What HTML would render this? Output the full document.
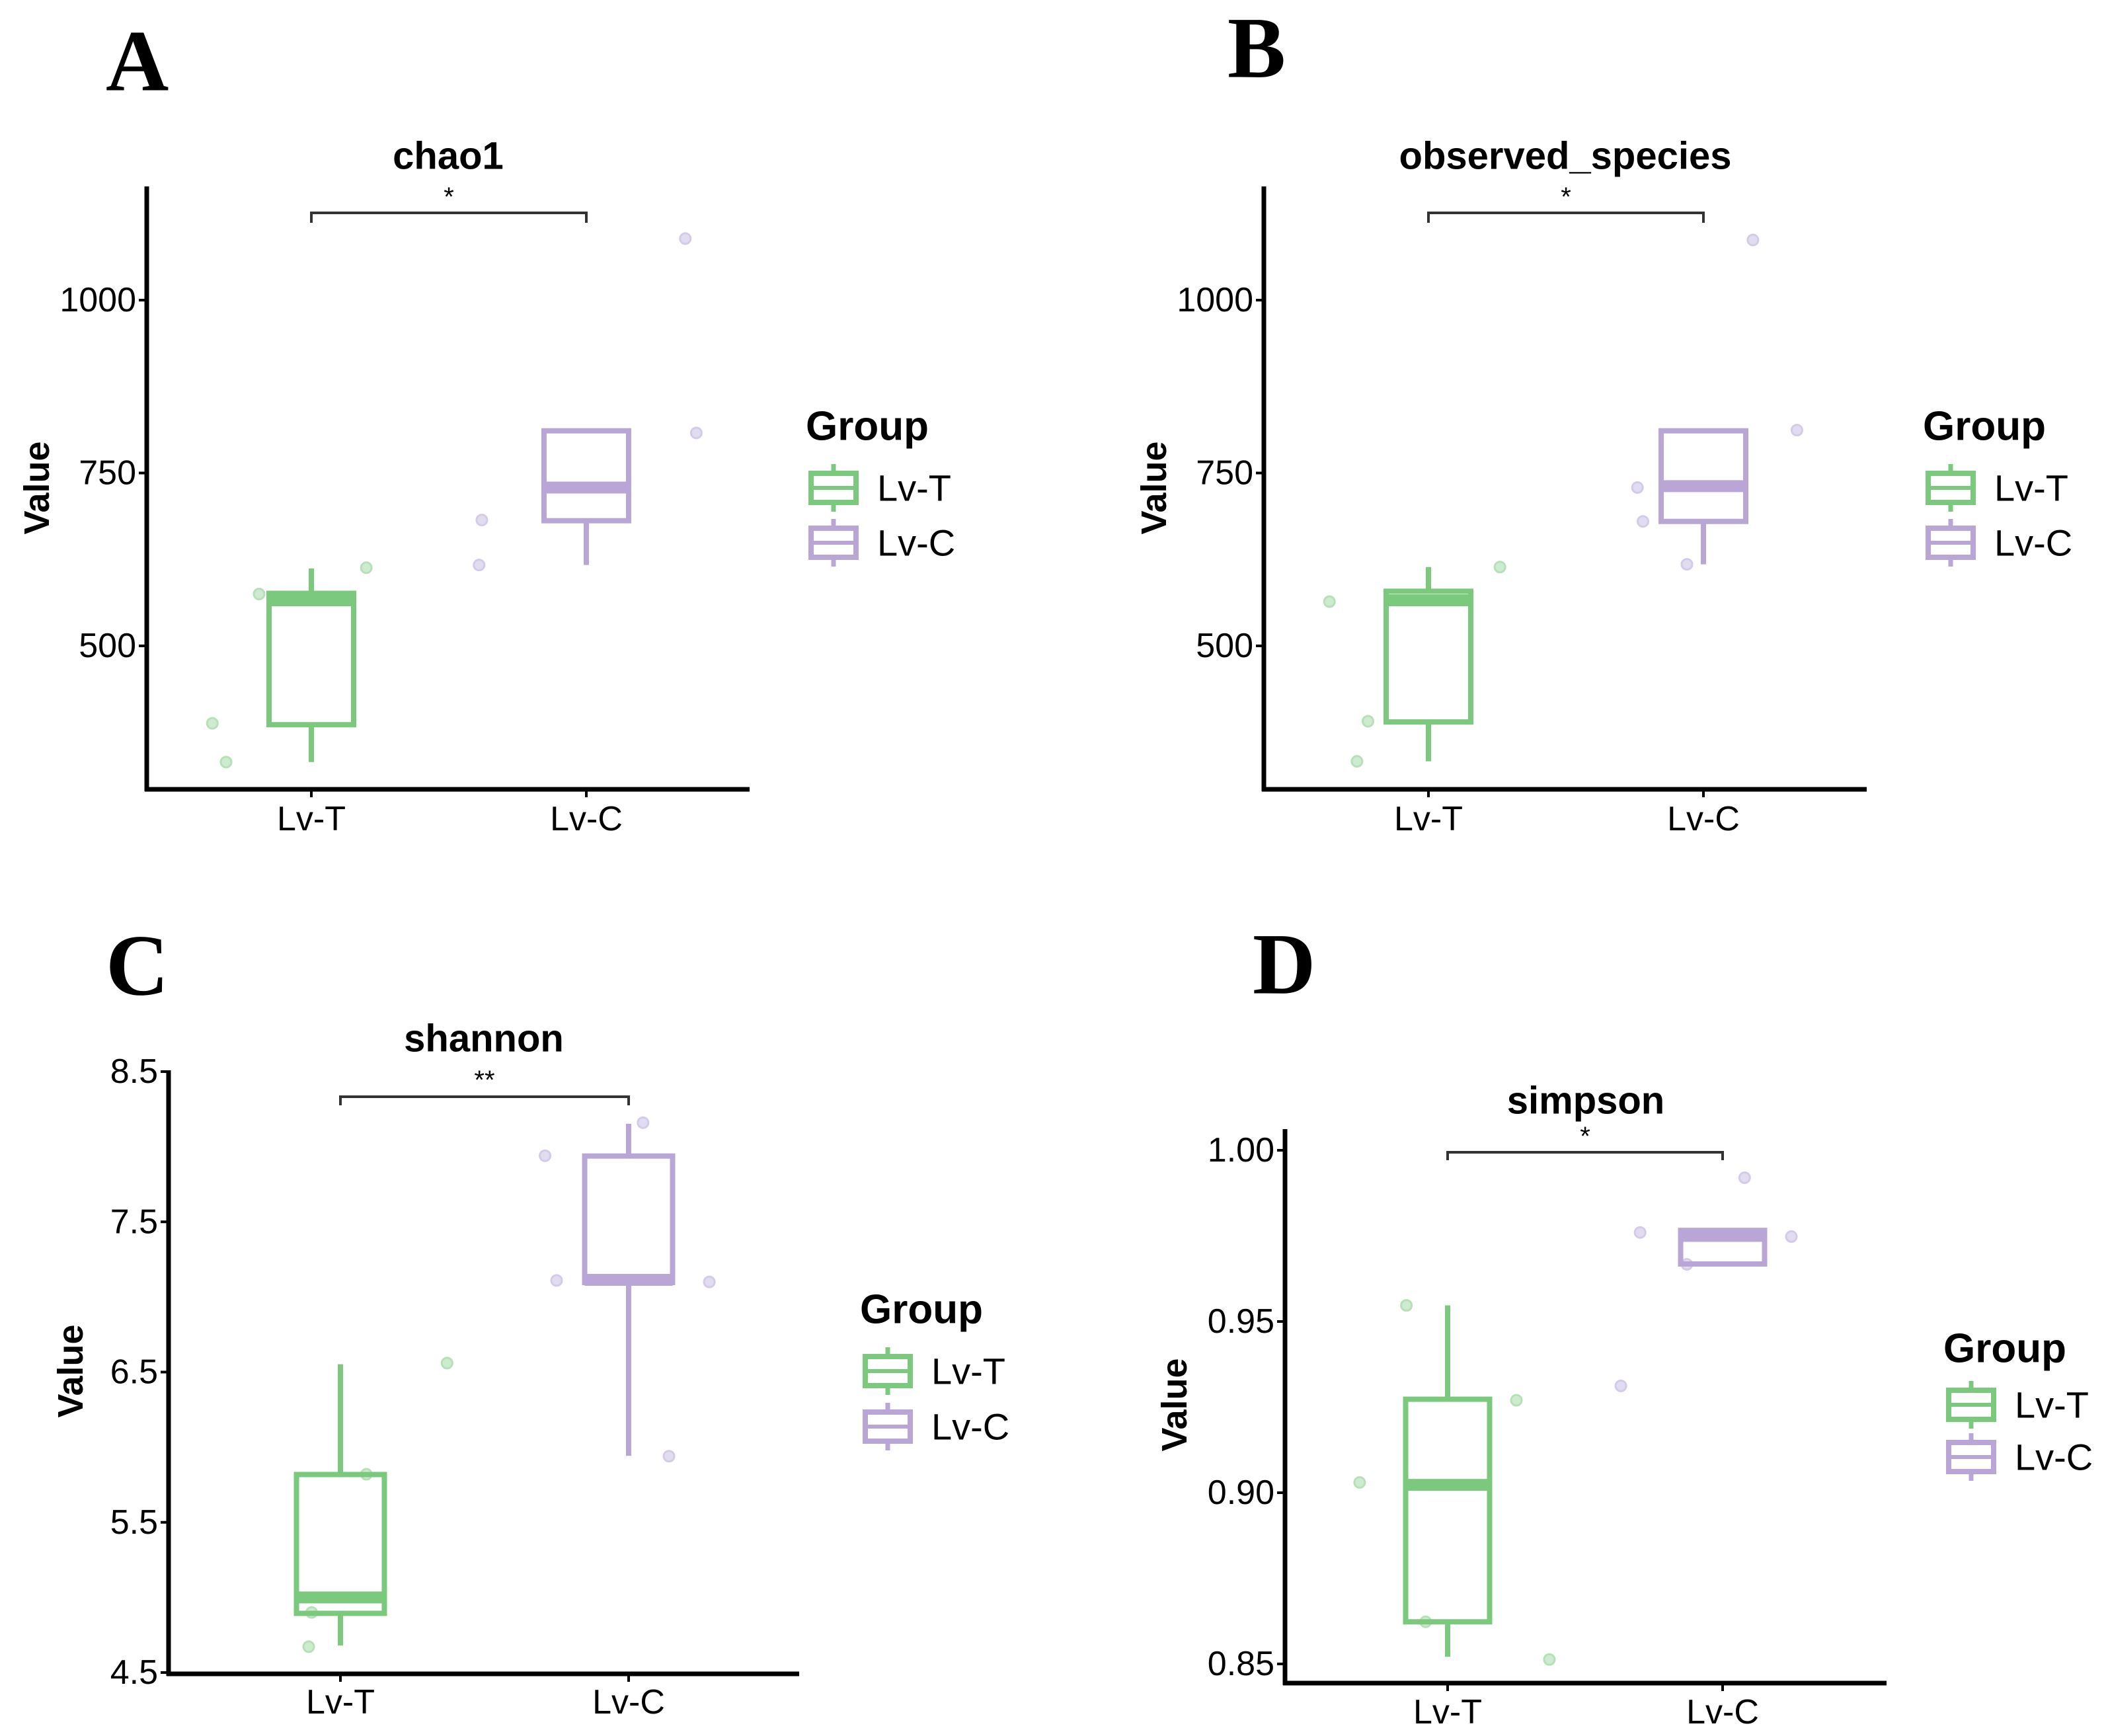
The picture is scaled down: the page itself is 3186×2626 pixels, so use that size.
<!DOCTYPE html>
<html><head><meta charset="utf-8"><style>
html,body{margin:0;padding:0;background:#fff}
svg{display:block}
text{font-family:"Liberation Sans",Arial,sans-serif}
</style></head><body>
<svg id="fig" width="3186" height="2626" viewBox="0 0 3186 2626" xmlns="http://www.w3.org/2000/svg"></svg>
<script>
// ---- data ----
const categories = ["Lv-T","Lv-C"];
const chao1Ticks = [500,750,1000];
const chao1Box = [[332,386,566,576,612],[617,681,729,811,811]];
const chao1PtsT = [388,332,575,613];
const chao1PtsC = [682,617,1089,808];
const chao1JitT = [-0.36,-0.31,-0.19,0.20];
const chao1JitC = [-0.38,-0.39,0.36,0.40];

const obsTicks = [500,750,1000];
const obsBox = [[333,390,566,579,614],[618,680,731,811,811]];
const obsPtsT = [564,391,333,614];
const obsPtsC = [729,680,618,1087,812];
const obsJitT = [-0.36,-0.22,-0.26,0.26];
const obsJitC = [-0.24,-0.22,-0.06,0.18,0.34];

const shanTicks = [4.5,5.5,6.5,7.5,8.5];
const shanBox = [[4.68,4.894,5.0,5.818,6.552],[5.943,7.096,7.114,7.938,8.153]];
const shanPtsT = [4.672,4.90,5.82,6.56];
const shanPtsC = [7.94,7.11,8.16,5.94,7.10];
const shanJitT = [-0.11,-0.10,0.09,0.37];
const shanJitC = [-0.29,-0.25,0.05,0.14,0.28];

const simpTicks = [0.85,0.90,0.95,1.00];
const simpTickLabels = ["0.85","0.90","0.95","1.00"];
const simpBox = [[0.8521,0.8623,0.9023,0.9273,0.9547],[0.9668,0.9668,0.975,0.9766,0.9766]];
const simpPtsT = [0.9547,0.903,0.927,0.8623,0.8513];
const simpPtsC = [0.992,0.976,0.9748,0.9312,0.9667];
const simpJitT = [-0.15,-0.32,0.25,-0.08,0.37];
const simpJitC = [0.08,-0.30,0.25,-0.37,-0.13];

// ---- drawing ----
const NS="http://www.w3.org/2000/svg";
const svg=document.getElementById('fig');
const GREEN="#7bc97d", PURPLE="#b9a6d6", GPT="#cdebce", PPT="#e2dcf0";
function mk(tag,attrs,parent){const e=document.createElementNS(NS,tag);for(const k in attrs)e.setAttribute(k,attrs[k]);(parent||svg).appendChild(e);return e;}
function txt(s,x,y,size,opts,parent){opts=opts||{};const t=mk('text',{x:x,y:y,'font-size':size,'text-anchor':opts.anchor||'middle','dominant-baseline':'central',fill:'#000'},parent);if(opts.bold)t.setAttribute('font-weight','bold');if(opts.family)t.setAttribute('style','font-family:'+opts.family);if(opts.rot)t.setAttribute('transform','rotate(-90 '+x+' '+y+')');t.textContent=s;return t;}

function panel(P, ticks, tickLabels, box, ptsT, ptsC, jitT, jitC){
  const g=mk('g',{});
  
  
  const y=v=>P.p1+(v-P.v1)*(P.p2-P.p1)/(P.v2-P.v1);
  const xs=[P.xT,P.xC];
  const sp=P.xC-P.xT;
  const L=txt(P.letter,P.lx,P.ly,132,{bold:true,anchor:'start',family:'"Liberation Serif",serif'},g);
  
  const T=txt(P.title,(P.ax+P.right)/2,P.ty,58,{bold:true},g);
  
  const groups=[[ptsT,jitT,GPT,'#b7e0b9'],[ptsC,jitC,PPT,'#d4cbe8']];
  groups.forEach((gr,gi)=>{gr[0].forEach((v,i)=>{
    const c=mk('circle',{cx:xs[gi]+gr[1][i]*sp,cy:y(v),r:8,fill:gr[2],stroke:gr[3],'stroke-width':3},g);
    
    
  });});
  const cols=[GREEN,PURPLE];
  box.forEach((b,i)=>{
    const bx=mk('g',{},g);
    
    
    const x=xs[i], w=P.bw/2;
    if(b[4]>b[3]) mk('line',{x1:x,x2:x,y1:y(b[3]),y2:y(b[4]),stroke:cols[i],'stroke-width':8},bx);
    if(b[1]>b[0]) mk('line',{x1:x,x2:x,y1:y(b[1]),y2:y(b[0]),stroke:cols[i],'stroke-width':8},bx);
    mk('rect',{x:x-w,y:y(b[3]),width:P.bw,height:Math.max(1,y(b[1])-y(b[3])),fill:'none',stroke:cols[i],'stroke-width':8},bx);
    mk('line',{x1:x-w,x2:x+w,y1:y(b[2]),y2:y(b[2]),stroke:cols[i],'stroke-width':18},bx);
  });
  const ya=mk('line',{x1:P.ax,x2:P.ax,y1:P.top,y2:P.base+3,stroke:'#000','stroke-width':7},g);
  
  const xa=mk('line',{x1:P.ax-3,x2:P.right,y1:P.base,y2:P.base,stroke:'#000','stroke-width':7},g);
  
  ticks.forEach((t,i)=>{
    mk('line',{x1:P.ax-12,x2:P.ax,y1:y(t),y2:y(t),stroke:'#000','stroke-width':4},g);
    const l=txt(tickLabels[i],P.ax-16,y(t),52,{anchor:'end'},g);
    
  });
  categories.forEach((c,i)=>{
    mk('line',{x1:xs[i],x2:xs[i],y1:P.base,y2:P.base+12,stroke:'#000','stroke-width':4},g);
    const l=txt(c,xs[i],P.xly,52,{},g);
    
  });
  const yl=txt('Value',P.vx,P.vy,54,{bold:true,rot:true},g);
  
  const br=mk('path',{d:`M${P.xT},${P.bby} V${P.by} H${P.xC} V${P.bby}`,fill:'none',stroke:'#333','stroke-width':4},g);
  
  const st=txt(P.star,(P.xT+P.xC)/2,P.sy,40,{},g);
  
  const lg=mk('g',{},g);
  
  txt('Group',P.gx,P.gy,62,{bold:true,anchor:'start'},lg);
  [P.k1,P.k2].forEach((ky,i)=>{
    const e=mk('g',{},lg);
    
    
    const kx=P.gx+8, cx=kx+34;
    mk('line',{x1:cx,x2:cx,y1:ky-36,y2:ky+36,stroke:cols[i],'stroke-width':7},e);
    mk('rect',{x:kx,y:ky-22,width:68,height:44,fill:'#fff',stroke:cols[i],'stroke-width':8},e);
    mk('line',{x1:kx,x2:kx+68,y1:ky,y2:ky,stroke:cols[i],'stroke-width':6},e);
    txt(categories[i],P.gx+108,ky,56,{anchor:'start'},e);
  });
}

const A={name:'panel-a-chao1',letter:'A',lx:160,ly:92,title:'chao1',ty:236,ax:222,top:282,base:1194,right:1134,
 v1:1000,p1:454,v2:500,p2:977,xT:471,xC:887,bw:128,by:322,bby:337,sy:298,star:'*',
 gx:1219,gy:645,k1:738,k2:821,xly:1239,vx:56,vy:738};
const B=Object.assign({},A,{name:'panel-b-observed-species',letter:'B',lx:1857,ly:72,title:'observed_species',
 ax:1912,right:2824,xT:2161,xC:2577,gx:2909,vx:1746});
const C={name:'panel-c-shannon',letter:'C',lx:160,ly:1460,title:'shannon',ty:1571,ax:255,top:1619,base:2532,right:1209,
 v1:8.5,p1:1621,v2:4.5,p2:2530,xT:515,xC:951,bw:133,by:1659,bby:1672,sy:1634,star:'**',
 gx:1301,gy:1981,k1:2074,k2:2158,xly:2575,vx:107,vy:2074};
const D={name:'panel-d-simpson',letter:'D',lx:1895,ly:1458,title:'simpson',ty:1665,ax:1944,top:1708,base:2546,right:2854,
 v1:1.0,p1:1740,v2:0.85,p2:2517,xT:2190,xC:2606,bw:127,by:1743,bby:1755,sy:1719,star:'*',
 gx:2940,gy:2040,k1:2125,k2:2204,xly:2590,vx:1777,vy:2125};

panel(A,chao1Ticks,chao1Ticks.map(String),chao1Box,chao1PtsT,chao1PtsC,chao1JitT,chao1JitC);
panel(B,obsTicks,obsTicks.map(String),obsBox,obsPtsT,obsPtsC,obsJitT,obsJitC);
panel(C,shanTicks,shanTicks.map(v=>v.toFixed(1)),shanBox,shanPtsT,shanPtsC,shanJitT,shanJitC);
panel(D,simpTicks,simpTickLabels,simpBox,simpPtsT,simpPtsC,simpJitT,simpJitC);
</script>
</body></html>
